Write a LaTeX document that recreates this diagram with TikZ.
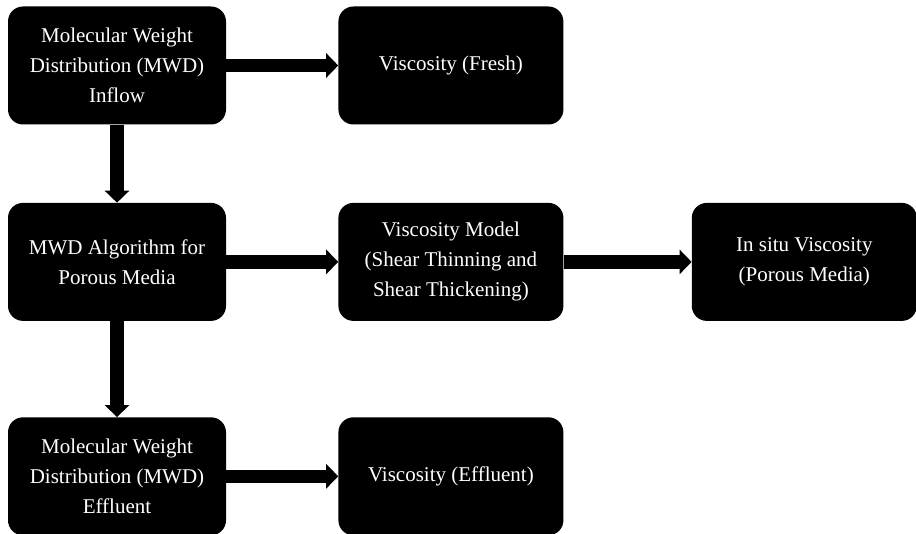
\documentclass[tikz,border=0pt]{standalone}
\usepackage{fontspec}
\setmainfont{Liberation Serif}
\usetikzlibrary{arrows.meta,positioning}
\tikzset{>={Triangle[width=24pt,length=12pt]},node distance=78pt and 112pt}
\tikzset{block/.style={fill=black,text=white,rounded corners=15pt,
        minimum width=218pt,minimum height=118pt,inner sep=0pt,
        align=center,font=\fontsize{21}{30}\selectfont}}
\tikzset{wide/.style={block,minimum width=225pt}}
\tikzset{flow/.style={->,line width=13.5pt}}

\begin{document}
\begin{tikzpicture}[]
    \useasboundingbox (0,0) rectangle (916pt,-534pt);
            \node[block] (inflow) at (117pt,-65.5pt) {Molecular Weight\\
                                Distribution (MWD)\\
                                Inflow};
            \node[wide] (fresh)    [right=of inflow]    {Viscosity (Fresh)};
            \node[block] (algo)     [below=of inflow]    {MWD Algorithm for\\
                                Porous Media};
            \node[wide] (model)    [right=of algo]      {Viscosity Model\\
                                (Shear Thinning and\\
                                Shear Thickening)};
            \node[wide] (insitu)   [right=128pt of model] {In situ Viscosity\\
                                (Porous Media)};
            \node[block] (effluent) [below=96pt of algo] {Molecular Weight\\
                                Distribution (MWD)\\
                                Effluent};
            \node[wide] (viscEff)  [right=of effluent]  {Viscosity (Effluent)};
        \path[flow]
                (inflow) edge (fresh)
                (inflow) edge (algo)
                (algo)   edge (model)
                (model)  edge (insitu)
                (algo)   edge (effluent)
                (effluent) edge (viscEff)
                ;
\end{tikzpicture}
\end{document}
